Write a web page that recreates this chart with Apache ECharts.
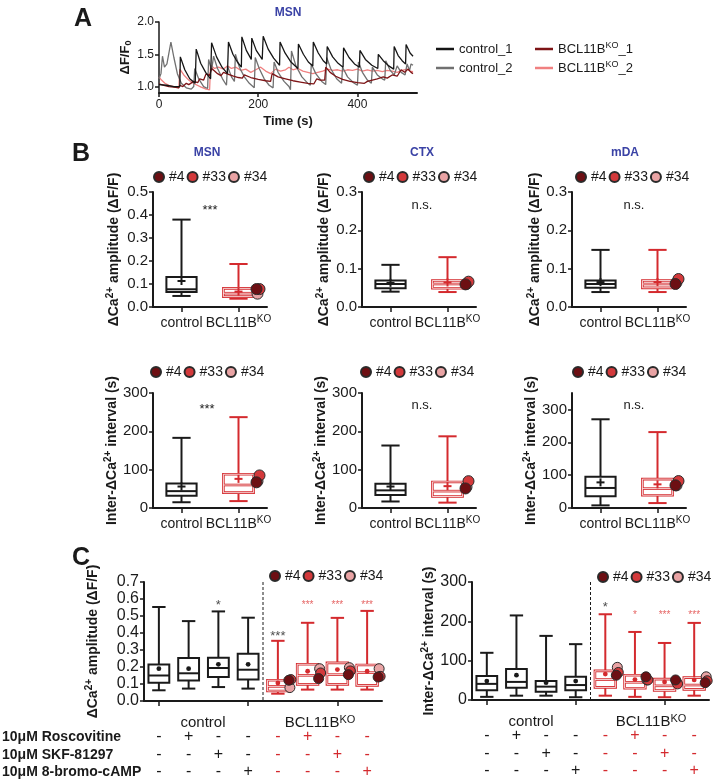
<!DOCTYPE html>
<html><head><meta charset="utf-8">
<script src="https://cdn.jsdelivr.net/npm/echarts@6/dist/echarts.min.js"></script>
<style>html,body{margin:0;padding:0;background:#fff}#c{width:719px;height:784px}</style>
</head><body><div id="c"></div>
<script>
// ================= DATA =================
// Panel A traces: [time (s), dF/F0]
const traceControl1 = [[0,1.03],[15,1.02],[30,1.0],[42,1.0],[43,1.46],[52,1.26],[62,1.12],[73,1.05],[75,1.58],[84,1.36],[94,1.22],[104,1.12],[106,1.68],[116,1.46],[127,1.3],[138,1.2],[140,1.69],[149,1.5],[158,1.38],[166,1.3],[167,1.77],[176,1.56],[186,1.42],[187,1.75],[196,1.56],[208,1.42],[210,1.78],[220,1.58],[231,1.44],[243,1.33],[244,1.69],[254,1.52],[266,1.38],[280,1.28],[281,1.66],[291,1.5],[301,1.38],[310,1.32],[311,1.69],[321,1.52],[331,1.4],[338,1.35],[339,1.62],[350,1.46],[361,1.36],[371,1.3],[372,1.6],[383,1.45],[394,1.35],[404,1.3],[405,1.56],[416,1.42],[429,1.33],[441,1.28],[442,1.5],[452,1.4],[463,1.32],[473,1.27],[474,1.62],[482,1.48],[490,1.4],[497,1.35],[498,1.65],[506,1.52],[512,1.47]];
const traceControl2 = [[0,1.12],[4,1.2],[7,1.47],[11,1.3],[16,1.35],[24,1.69],[30,1.45],[37,1.2],[45,1.05],[55,0.98],[65,0.96],[70,1.0],[72,1.28],[80,1.12],[90,1.0],[98,0.97],[100,1.42],[106,1.25],[110,1.47],[118,1.28],[128,1.12],[136,1.02],[138,1.32],[146,1.15],[152,1.08],[154,1.5],[162,1.3],[172,1.15],[182,1.05],[192,0.98],[194,1.45],[202,1.28],[212,1.12],[222,1.02],[230,0.98],[232,1.38],[240,1.22],[252,1.08],[262,1.0],[265,0.95],[267,1.55],[276,1.32],[288,1.15],[300,1.05],[305,1.02],[307,1.35],[316,1.2],[328,1.08],[336,1.03],[338,1.45],[346,1.28],[358,1.12],[368,1.05],[370,1.3],[380,1.15],[392,1.06],[400,1.02],[402,1.38],[410,1.22],[420,1.1],[428,1.05],[430,1.3],[440,1.18],[450,1.12],[455,1.1],[457,1.4],[466,1.25],[474,1.18],[478,1.15],[480,1.32],[488,1.22],[496,1.18],[500,1.35],[505,1.25],[508,1.35],[512,1.33]];
const traceKO1 = [[0,1.04],[10,1.02],[20,1.0],[30,0.99],[40,0.98],[42,1.02],[48,1.0],[55,1.05],[60,1.03],[70,1.08],[78,1.06],[82,1.12],[90,1.1],[95,1.2],[102,1.17],[106,1.28],[112,1.24],[118,1.2],[125,1.17],[130,1.22],[140,1.19],[150,1.16],[160,1.14],[168,1.13],[172,1.18],[185,1.14],[200,1.11],[215,1.09],[225,1.08],[228,1.2],[240,1.15],[255,1.12],[270,1.09],[285,1.07],[300,1.05],[312,1.04],[318,1.12],[325,1.1],[334,1.1],[336,1.3],[345,1.22],[356,1.16],[370,1.11],[385,1.08],[400,1.06],[414,1.05],[420,1.08],[430,1.1],[440,1.12],[452,1.15],[460,1.13],[470,1.18],[480,1.16],[488,1.26],[495,1.22],[502,1.27],[508,1.22],[512,1.2]];
const traceKO2 = [[0,1.15],[5,1.1],[12,1.05],[20,1.02],[30,1.0],[40,0.98],[42,1.27],[50,1.18],[60,1.1],[72,1.04],[85,0.99],[95,0.96],[102,0.95],[104,1.33],[112,1.28],[120,1.3],[130,1.27],[138,1.32],[146,1.28],[155,1.3],[165,1.25],[175,1.27],[185,1.22],[195,1.26],[205,1.3],[215,1.24],[225,1.2],[235,1.27],[245,1.24],[255,1.26],[262,1.3],[270,1.26],[280,1.28],[290,1.24],[300,1.22],[310,1.2],[320,1.22],[330,1.24],[340,1.27],[350,1.25],[360,1.26],[370,1.24],[380,1.26],[390,1.25],[400,1.27],[410,1.24],[420,1.26],[430,1.24],[440,1.25],[450,1.23],[460,1.25],[470,1.24],[480,1.22],[490,1.25],[500,1.27],[506,1.24],[512,1.23]];
const traceNames = ['control_1', 'control_2', 'BCL11BKO_1', 'BCL11BKO_2'];
const timeTicks = [0, 200, 400];
const dffTicks = [1.0, 1.5, 2.0];

// Panel B: boxes are [min, Q1, median, Q3, max, mean]
const groupCats = ['control', 'BCL11B^KO'];
const lineNames = ['#4', '#33', '#34'];
const ampMSN_control = [0.048, 0.065, 0.077, 0.13, 0.38, 0.113];
const ampMSN_KO = [0.036, 0.045, 0.06, 0.081, 0.187, 0.067];
const ampMSN_lines = [0.078, 0.078, 0.058];
const ampCTX_control = [0.04, 0.049, 0.06, 0.069, 0.11, 0.063];
const ampCTX_KO = [0.039, 0.049, 0.06, 0.069, 0.13, 0.064];
const ampCTX_lines = [0.059, 0.066, 0.06];
const ampMDA_control = [0.039, 0.05, 0.06, 0.069, 0.149, 0.065];
const ampMDA_KO = [0.039, 0.05, 0.06, 0.069, 0.149, 0.065];
const ampMDA_lines = [0.06, 0.073, 0.064];
const intMSN_control = [15, 32, 44, 64, 183, 56];
const intMSN_KO = [18, 40, 60, 88, 237, 76];
const intMSN_lines = [67, 85, 70];
const intCTX_control = [17, 34, 46, 63, 163, 56];
const intCTX_KO = [14, 30, 44, 68, 187, 57];
const intCTX_lines = [51, 70, 55];
const intMDA_control = [8, 36, 61, 95, 270, 78];
const intMDA_KO = [15, 39, 59, 88, 231, 72];
const intMDA_lines = [69, 82, 69];
const ampMSNTicks = [0, 0.1, 0.2, 0.3, 0.4, 0.5];
const amp03Ticks = [0, 0.1, 0.2, 0.3];
const int300Ticks = [0, 100, 200, 300];
const bTitles = ['MSN', 'CTX', 'mDA'];
const bSigTexts = ['***', 'n.s.', 'n.s.', '***', 'n.s.', 'n.s.'];

// Panel C
const treatCats = ['ctrl', 'ctrl+Rosc', 'ctrl+SKF', 'ctrl+cAMP', 'KO', 'KO+Rosc', 'KO+SKF', 'KO+cAMP'];
const roscovitineRow = ['-', '+', '-', '-', '-', '+', '-', '-'];
const skfRow = ['-', '-', '+', '-', '-', '-', '+', '-'];
const bromoCampRow = ['-', '-', '-', '+', '-', '-', '-', '+'];
const treatRowLabels = ['10\u03bcM Roscovitine', '10\u03bcM SKF-81297', '10\u03bcM 8-bromo-cAMP'];
const cAmpBoxes = [
  [0.063, 0.108, 0.15, 0.215, 0.553, 0.19],
  [0.073, 0.12, 0.163, 0.253, 0.47, 0.19],
  [0.082, 0.141, 0.194, 0.255, 0.527, 0.216],
  [0.073, 0.127, 0.184, 0.278, 0.49, 0.216],
  [0.043, 0.059, 0.086, 0.122, 0.354, 0.106],
  [0.067, 0.098, 0.151, 0.216, 0.46, 0.175],
  [0.067, 0.098, 0.155, 0.224, 0.489, 0.185],
  [0.067, 0.092, 0.167, 0.212, 0.53, 0.175]
];
const cAmpLine4 = [0.122, 0.132, 0.155, 0.141];
const cAmpLine33 = [0.126, 0.165, 0.177, 0.145];
const cAmpLine34 = [0.079, 0.19, 0.196, 0.19];
const cIntBoxes = [
  [8, 25, 41, 61, 120, 48],
  [11, 31, 46, 79, 215, 63],
  [11, 21, 34, 48, 163, 44],
  [7, 25, 38, 59, 142, 48],
  [11, 32, 52, 74, 218, 66],
  [8, 30, 45, 63, 173, 52],
  [7, 24, 36, 53, 145, 46],
  [11, 27, 38, 57, 196, 51]
];
const cIntLine4 = [63, 59, 51, 44];
const cIntLine33 = [70, 51, 41, 49];
const cIntLine34 = [83, 51, 46, 59];
const cAmpSigCats = [2, 4, 5, 6, 7];
const cAmpSigVals = [0.565, 0.382, 0.562, 0.562, 0.562];
const cAmpSigText = ['*', '***', '***', '***', '***'];
const cAmpSigRed = [false, false, true, true, true];
const cIntSigCats = [4, 5, 6, 7];
const cIntSigVals = [236, 215, 215, 215];
const cIntSigText = ['*', '*', '***', '***'];
const cIntSigRed = [false, true, true, true];

// ================= STYLE =================
const FF = '"Liberation Sans", Arial, Helvetica, sans-serif';
const BLACK = '#1a1a1a';
const RED = '#d42a2e';
const SIGRED = '#e0403f';
const BLUE = '#3a42a5';
const DOT_COLORS = ['#6d0f13', '#d3393b', '#e9a3a4'];
const TRACE_COLORS = ['#151515', '#707070', '#7d1416', '#f08080'];

const CAT_RICH = {
  n: {fontSize: 14, color: BLACK, lineHeight: 18, fontFamily: FF},
  s: {fontSize: 10, color: BLACK, lineHeight: 10, verticalAlign: 'top', fontFamily: FF}
};
const TITLE_RICH = {
  t: {fontSize: 14, fontWeight: 'bold', color: BLACK, lineHeight: 18, fontFamily: FF},
  s: {fontSize: 10, fontWeight: 'bold', color: BLACK, lineHeight: 10, verticalAlign: 'top', fontFamily: FF},
  b: {fontSize: 9, fontWeight: 'bold', color: BLACK, lineHeight: 9, verticalAlign: 'bottom', fontFamily: FF}
};
const AMP_NAME = '{t|\u0394Ca}{s|2+}{t| amplitude (\u0394F/F)}';
const INT_NAME = '{t|Inter-\u0394Ca}{s|2+}{t| interval (s)}';
function catFmt(v) { return v === 'BCL11B^KO' ? '{n|BCL11B}{s|KO}' : '{n|' + v + '}'; }

function makeBoxRender(cfg) {
  return function (params, api) {
    const cat = api.value(0);
    const band = api.size([1, 0])[0];
    const p = [1, 2, 3, 4, 5, 6].map(function (i) { return api.coord([cat, api.value(i)]); });
    const x = p[0][0];
    const yMin = p[0][1], yQ1 = p[1][1], yMed = p[2][1], yQ3 = p[3][1], yMax = p[4][1], yMean = p[5][1];
    const ko = cat >= cfg.koFrom;
    const col = ko ? RED : BLACK;
    const bw = band * cfg.boxFrac / 2, cw = band * cfg.capFrac / 2;
    const ls = {stroke: col, lineWidth: cfg.lw, fill: null};
    const ch = [];
    ch.push({type: 'line', shape: {x1: x, y1: yQ3, x2: x, y2: yMax}, style: ls});
    ch.push({type: 'line', shape: {x1: x, y1: yQ1, x2: x, y2: yMin}, style: ls});
    ch.push({type: 'line', shape: {x1: x - cw, y1: yMax, x2: x + cw, y2: yMax}, style: ls});
    ch.push({type: 'line', shape: {x1: x - cw, y1: yMin, x2: x + cw, y2: yMin}, style: ls});
    const rect = {x: x - bw, y: yQ3, width: 2 * bw, height: yQ1 - yQ3};
    ch.push({type: 'rect', shape: rect, style: {stroke: col, lineWidth: ko ? cfg.lw + 0.6 : cfg.lw, fill: '#fff'}});
    ch.push({type: 'line', shape: {x1: x - bw, y1: yMed, x2: x + bw, y2: yMed}, style: {stroke: col, lineWidth: ko ? cfg.lw + 0.6 : cfg.lw}});
    if (ko) {
      ch.push({type: 'rect', shape: rect, style: {stroke: '#fff', lineWidth: 0.8, fill: null}});
      ch.push({type: 'line', shape: {x1: x - bw, y1: yMed, x2: x + bw, y2: yMed}, style: {stroke: '#fff', lineWidth: 0.8}});
    }
    if (cfg.mean === 'plus') {
      const m = 4;
      ch.push({type: 'line', shape: {x1: x - m, y1: yMean, x2: x + m, y2: yMean}, style: {stroke: col, lineWidth: 2}});
      ch.push({type: 'line', shape: {x1: x, y1: yMean - m, x2: x, y2: yMean + m}, style: {stroke: col, lineWidth: 2}});
    } else {
      ch.push({type: 'circle', shape: {cx: x, cy: yMean, r: 2.4}, style: {fill: col}});
    }
    if (cfg.divider && cat === cfg.koFrom) {
      const cs = params.coordSys;
      const dx = x - band / 2;
      ch.push({type: 'line', shape: {x1: dx, y1: cs.y, x2: dx, y2: cs.y + cs.height}, style: {stroke: BLACK, lineWidth: 1, lineDash: [3, 2]}});
    }
    return {type: 'group', children: ch};
  };
}

const grids = [], xAxes = [], yAxes = [], series = [], legends = [], graphics = [];

// ================= PANEL A =================
grids.push({left: 159, top: 22, width: 258, height: 71});
xAxes.push({
  gridIndex: 0, type: 'value', min: 0, max: 520,
  axisLine: {show: true, onZero: false, lineStyle: {color: BLACK, width: 2}},
  axisTick: {show: true, length: 4, customValues: timeTicks, lineStyle: {color: BLACK, width: 1.5}},
  axisLabel: {customValues: timeTicks, fontSize: 12, color: BLACK, margin: 6, fontFamily: FF},
  splitLine: {show: false},
  name: 'Time (s)', nameLocation: 'middle', nameGap: 22,
  nameTextStyle: {fontWeight: 'bold', fontSize: 13, color: BLACK, fontFamily: FF}
});
yAxes.push({
  gridIndex: 0, type: 'value', min: 0.9, max: 2.0,
  axisLine: {show: true, lineStyle: {color: BLACK, width: 1.5}},
  axisTick: {show: true, length: 4, customValues: dffTicks, lineStyle: {color: BLACK, width: 1.5}},
  axisLabel: {customValues: dffTicks, formatter: function (v) { return v.toFixed(1); }, fontSize: 12, color: BLACK, margin: 5, fontFamily: FF},
  splitLine: {show: false},
  name: '{t|\u0394F/F}{b|0}', nameLocation: 'middle', nameRotate: 90, nameGap: 25,
  nameTextStyle: {rich: {t: {fontSize: 13, fontWeight: 'bold', color: BLACK, lineHeight: 16, fontFamily: FF}, b: TITLE_RICH.b}}
});
[traceKO2, traceControl2, traceKO1, traceControl1].forEach(function (tr, k) {
  const idx = [3, 1, 2, 0][k];
  series.push({
    type: 'line', name: traceNames[idx], xAxisIndex: 0, yAxisIndex: 0, data: tr,
    symbol: 'none', showSymbol: false, silent: true,
    lineStyle: {color: TRACE_COLORS[idx], width: 1.3}, itemStyle: {color: TRACE_COLORS[idx]}, z: 2 + k
  });
});
const traceLegendFmt = function (name) {
  return name.indexOf('BCL11BKO') === 0 ? '{n|BCL11B}{s|KO}{n|' + name.slice(8) + '}' : '{n|' + name + '}';
};
const traceLegendRich = {
  n: {fontSize: 13, color: BLACK, lineHeight: 16, fontFamily: FF},
  s: {fontSize: 9, color: BLACK, lineHeight: 9, verticalAlign: 'top', fontFamily: FF}
};
[[436, ['control_1', 'control_2']], [535, ['BCL11BKO_1', 'BCL11BKO_2']]].forEach(function (lg) {
  legends.push({left: lg[0], top: 41, orient: 'vertical', padding: 0, itemWidth: 18, itemHeight: 2.5, itemGap: 3,
    icon: 'rect', selectedMode: false, data: lg[1], formatter: traceLegendFmt,
    textStyle: {fontSize: 13, color: BLACK, lineHeight: 16, fontFamily: FF, rich: traceLegendRich}});
});

// ================= PANEL B =================
const bLayouts = [
  {left: 153, top: 192}, {left: 362, top: 192}, {left: 572, top: 192},
  {left: 153, top: 393}, {left: 362, top: 393}, {left: 572, top: 393}
];
const bBoxes = [
  [ampMSN_control, ampMSN_KO], [ampCTX_control, ampCTX_KO], [ampMDA_control, ampMDA_KO],
  [intMSN_control, intMSN_KO], [intCTX_control, intCTX_KO], [intMDA_control, intMDA_KO]
];
const bLines = [ampMSN_lines, ampCTX_lines, ampMDA_lines, intMSN_lines, intCTX_lines, intMDA_lines];
const bYMax = [0.5, 0.3, 0.3, 300, 300, 350];
const bYTicks = [ampMSNTicks, amp03Ticks, amp03Ticks, int300Ticks, int300Ticks, int300Ticks];
const bNameGap = [30, 29, 28, 30, 31, 30];
const bLegendPos = [[153, 170], [363, 170], [575, 170], [150, 365], [360, 365], [572, 365]];
const bSigPos = [[210, 210], [422, 205], [634, 205], [207, 409], [422, 405], [634, 405]];
const B_W = 114, B_H = 115;
const dotOffsetsB = [18, 21, 19];

bLayouts.forEach(function (L, i) {
  const g = grids.length;
  grids.push({left: L.left, top: L.top, width: B_W, height: B_H});
  const xi = xAxes.length, yi = yAxes.length;
  xAxes.push({
    gridIndex: g, type: 'category', data: groupCats,
    axisLine: {show: true, lineStyle: {color: BLACK, width: 2}},
    axisTick: {show: true, alignWithLabel: true, length: 5, lineStyle: {color: BLACK, width: 1.5}},
    axisLabel: {interval: 0, margin: 7, formatter: catFmt, rich: CAT_RICH}
  });
  const isAmp = i < 3;
  yAxes.push({
    gridIndex: g, type: 'value', min: 0, max: bYMax[i],
    axisLine: {show: true, lineStyle: {color: BLACK, width: 2}},
    axisTick: {show: true, length: 4, customValues: bYTicks[i], lineStyle: {color: BLACK, width: 1.5}},
    axisLabel: {customValues: bYTicks[i], fontSize: 15, color: BLACK, margin: 5, fontFamily: FF,
      formatter: function (v) { return isAmp ? v.toFixed(1) : String(Math.round(v)); }},
    splitLine: {show: false},
    name: isAmp ? AMP_NAME : INT_NAME, nameLocation: 'middle', nameRotate: 90, nameGap: bNameGap[i],
    nameTextStyle: {rich: TITLE_RICH}
  });
  series.push({
    type: 'custom', xAxisIndex: xi, yAxisIndex: yi, silent: true, z: 2,
    renderItem: makeBoxRender({boxFrac: 0.53, capFrac: 0.32, lw: 2, koFrom: 1, mean: 'plus'}),
    encode: {x: 0, y: [1, 2, 3, 4, 5]},
    data: bBoxes[i].map(function (b, c) { return [c].concat(b); })
  });
  [2, 1, 0].forEach(function (k) {
    series.push({
      type: 'scatter', name: lineNames[k], xAxisIndex: xi, yAxisIndex: yi, silent: true, z: 5 - k,
      data: [[1, bLines[i][k]]], symbol: 'circle', symbolSize: 11, symbolOffset: [dotOffsetsB[k], 0],
      itemStyle: {color: DOT_COLORS[k], borderColor: '#2a2a2a', borderWidth: 1, opacity: 1}
    });
  });
  legends.push({left: bLegendPos[i][0], top: bLegendPos[i][1], padding: 0, itemWidth: 10, itemHeight: 10, itemGap: 2,
    icon: 'circle', selectedMode: false, data: lineNames,
    textStyle: {fontSize: 14, color: BLACK, fontFamily: FF}});
  graphics.push({type: 'text', x: bSigPos[i][0], y: bSigPos[i][1], silent: true,
    style: {text: bSigTexts[i], fill: BLACK, font: '13px ' + FF, align: 'center', verticalAlign: 'middle'}});
});
[[207, 153], [422, 153], [625, 153]].forEach(function (p, i) {
  graphics.push({type: 'text', x: p[0], y: p[1], silent: true,
    style: {text: bTitles[i], fill: BLUE, font: 'bold 12px ' + FF, align: 'center', verticalAlign: 'middle'}});
});

// ================= PANEL C =================
const cLayouts = [{left: 144, top: 582, width: 238, height: 119}, {left: 472, top: 582, width: 237, height: 118}];
const cBoxes = [cAmpBoxes, cIntBoxes];
const cLines = [[cAmpLine4, cAmpLine33, cAmpLine34], [cIntLine4, cIntLine33, cIntLine34]];
const cSig = [[cAmpSigCats, cAmpSigVals, cAmpSigText, cAmpSigRed], [cIntSigCats, cIntSigVals, cIntSigText, cIntSigRed]];
const cLegendPos = [[269, 569], [597, 570]];
const cNameGap = [42, 34];
const treatRows = [roscovitineRow, skfRow, bromoCampRow];
const rowOffsets = [28, 46, 63];
const dotOffsetsC = [11, 13, 12];

cLayouts.forEach(function (L, i) {
  const g = grids.length;
  grids.push(L);
  const xi = xAxes.length, yi = yAxes.length;
  xAxes.push({
    gridIndex: g, type: 'category', data: treatCats,
    axisLine: {show: true, lineStyle: {color: BLACK, width: 2}},
    axisTick: {show: true, alignWithLabel: true, length: 5, lineStyle: {color: BLACK, width: 1.5}},
    axisLabel: {show: false}
  });
  treatRows.forEach(function (row, r) {
    xAxes.push({
      gridIndex: g, type: 'category', data: treatCats, position: 'bottom', offset: rowOffsets[r],
      axisLine: {show: false}, axisTick: {show: false},
      axisLabel: {interval: 0, margin: 0,
        formatter: function (v, idx) { return (idx >= 4 ? '{r|' : '{k|') + row[idx] + '}'; },
        rich: {k: {color: BLACK, fontSize: 16, fontFamily: FF}, r: {color: RED, fontSize: 16, fontFamily: FF}}}
    });
  });
  const isAmp = i === 0;
  yAxes.push({
    gridIndex: g, type: 'value', min: 0, max: isAmp ? 0.7 : 300, interval: isAmp ? 0.1 : 100,
    axisLine: {show: true, lineStyle: {color: BLACK, width: 2}},
    axisTick: {show: true, length: 4, lineStyle: {color: BLACK, width: 1.5}},
    axisLabel: {fontSize: 16, color: BLACK, margin: 5, fontFamily: FF,
      formatter: function (v) { return isAmp ? v.toFixed(1) : String(Math.round(v)); }},
    splitLine: {show: false},
    name: isAmp ? AMP_NAME : INT_NAME, nameLocation: 'middle', nameRotate: 90, nameGap: cNameGap[i],
    nameTextStyle: {rich: TITLE_RICH}
  });
  series.push({
    type: 'custom', xAxisIndex: xi, yAxisIndex: yi, silent: true, z: 2,
    renderItem: makeBoxRender({boxFrac: 0.7, capFrac: 0.45, lw: 2, koFrom: 4, mean: 'dot', divider: true}),
    encode: {x: 0, y: [1, 2, 3, 4, 5]},
    data: cBoxes[i].map(function (b, c) { return [c].concat(b); })
  });
  [2, 1, 0].forEach(function (k) {
    series.push({
      type: 'scatter', name: lineNames[k], xAxisIndex: xi, yAxisIndex: yi, silent: true, z: 5 - k,
      data: cLines[i][k].map(function (v, j) { return [4 + j, v]; }),
      symbol: 'circle', symbolSize: 10, symbolOffset: [dotOffsetsC[k], 0],
      itemStyle: {color: DOT_COLORS[k], borderColor: '#2a2a2a', borderWidth: 1, opacity: 1}
    });
  });
  const S = cSig[i];
  series.push({
    type: 'scatter', xAxisIndex: xi, yAxisIndex: yi, silent: true, z: 6, symbolSize: 1,
    itemStyle: {color: 'rgba(0,0,0,0)'},
    data: S[0].map(function (c, j) {
      return {value: [c, S[1][j]], name: S[2][j],
        label: {show: true, position: 'inside', formatter: '{b}', color: S[3][j] ? SIGRED : BLACK,
          fontSize: S[3][j] ? 10 : 13, fontFamily: FF}};
    })
  });
  legends.push({left: cLegendPos[i][0], top: cLegendPos[i][1], padding: 0, itemWidth: 10, itemHeight: 10, itemGap: 2,
    icon: 'circle', selectedMode: false, data: lineNames,
    textStyle: {fontSize: 14, color: BLACK, fontFamily: FF}});
});
// group labels under C
[[203, 723, 'control'], [320, 723, 'BCL11B^KO'], [531, 722, 'control'], [651, 722, 'BCL11B^KO']].forEach(function (p) {
  graphics.push({type: 'text', x: p[0], y: p[1], silent: true,
    style: {text: catFmt(p[2]), rich: {n: {fontSize: 15, fill: BLACK, lineHeight: 18, fontFamily: FF}, s: {fontSize: 11, fill: BLACK, lineHeight: 11, verticalAlign: 'top', fontFamily: FF}},
      align: 'center', verticalAlign: 'middle'}});
});
treatRowLabels.forEach(function (t, r) {
  graphics.push({type: 'text', x: 2, y: [737, 755, 772][r], silent: true,
    style: {text: t, fill: BLACK, font: 'bold 14px ' + FF, align: 'left', verticalAlign: 'middle'}});
});
// panel letters and A title
[['A', 74, 19], ['B', 72, 154], ['C', 72, 558]].forEach(function (p) {
  graphics.push({type: 'text', x: p[1], y: p[2], silent: true,
    style: {text: p[0], fill: BLACK, font: 'bold 25px ' + FF, align: 'left', verticalAlign: 'middle'}});
});
graphics.push({type: 'text', x: 288, y: 13, silent: true,
  style: {text: 'MSN', fill: BLUE, font: 'bold 12px ' + FF, align: 'center', verticalAlign: 'middle'}});

const chart = echarts.init(document.getElementById('c'), null, {renderer: 'canvas', width: 719, height: 784});
chart.setOption({
  animation: false,
  backgroundColor: '#ffffff',
  textStyle: {fontFamily: FF},
  grid: grids, xAxis: xAxes, yAxis: yAxes, series: series, legend: legends, graphic: graphics
});
</script></body></html>
